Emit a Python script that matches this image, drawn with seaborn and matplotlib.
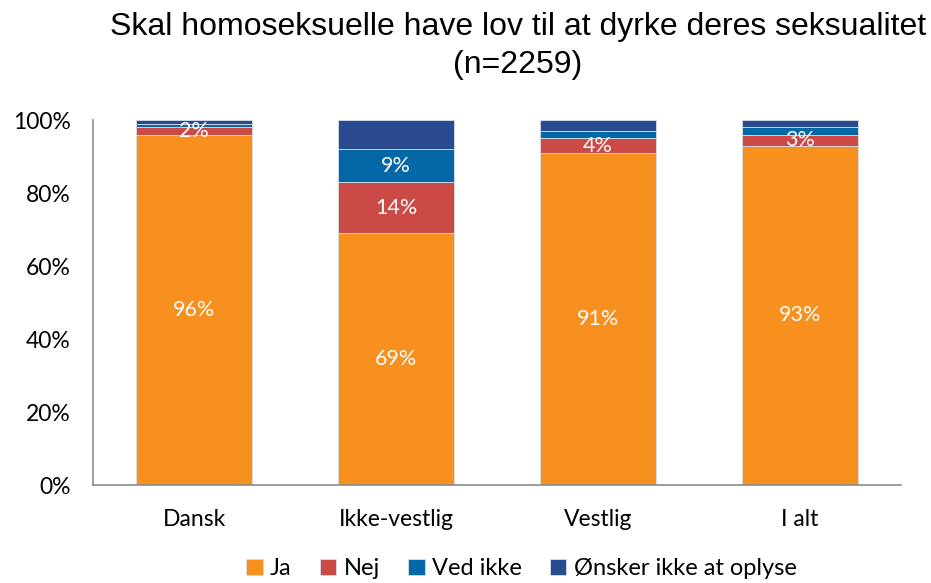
import numpy as np
import pandas as pd
import matplotlib
matplotlib.use("Agg")
import matplotlib.pyplot as plt
import seaborn as sns

# data (percent)
categories = ["Dansk", "Ikke-vestlig", "Vestlig", "I alt"]
series_names = ["Ja", "Nej", "Ved ikke", "Ønsker ikke at oplyse"]
ja = [96, 69, 91, 93]
nej = [2, 14, 4, 3]
ved_ikke = [1, 9, 2, 2]
oenskerikke = [1, 8, 3, 2]
# which segments carry a value label
show_ja = [True, True, True, True]
show_nej = [True, True, True, True]
show_ved = [False, True, False, False]
show_oen = [False, False, False, False]

colors = ["#F7901E", "#CC4A45", "#0568A6", "#2A4A8F"]

sns.set_style("white")
plt.rcParams["font.family"] = ["Lato", "DejaVu Sans"]
plt.rcParams["text.color"] = "black"

fig = plt.figure(figsize=(9.31, 5.83), dpi=100)
ax = fig.add_axes([0.0999, 0.168, 0.8679, 0.626])

values = [ja, nej, ved_ikke, oenskerikke]
shows = [show_ja, show_nej, show_ved, show_oen]
bottom = np.zeros(len(categories))
for name, vals, col, show in zip(series_names, values, colors, shows):
    df = pd.DataFrame({"kategori": categories, "andel": vals})
    sns.barplot(data=df, x="kategori", y="andel", color=col, bottom=bottom,
                saturation=1, width=0.57, edgecolor="#d8dde8", linewidth=0.6,
                label=name, legend=False, ax=ax)
    for i, (v, s) in enumerate(zip(vals, show)):
        if s:
            ax.text(i, bottom[i] + v / 2, f"{v}%", ha="center", va="center",
                    color="white", fontsize=15.5)
    bottom = bottom + np.array(vals)

if ax.get_legend() is not None:
    ax.get_legend().remove()

ax.set_xlim(-0.5, 3.5)
ax.set_ylim(0, 100)
ax.set_yticks(range(0, 101, 20))
ax.set_yticklabels([f"{t}%" for t in range(0, 101, 20)])
ax.set_xlabel("")
ax.set_ylabel("")
ax.tick_params(axis="both", labelsize=16.5, length=0, colors="black")
ax.tick_params(axis="x", pad=17)
ax.tick_params(axis="y", pad=16)
for side in ["top", "right"]:
    ax.spines[side].set_visible(False)
for side in ["left", "bottom"]:
    ax.spines[side].set_color("#8c8c8c")
    ax.spines[side].set_linewidth(1.2)

fig.text(0.556, 0.98, "Skal homoseksuelle have lov til at dyrke deres seksualitet\n(n=2259)",
         ha="center", va="top", fontsize=23, family=["Liberation Sans"],
         color="black", linespacing=1.35)

handles, labels = ax.get_legend_handles_labels()
fig.legend(handles, labels, loc="lower center", bbox_to_anchor=(0.56, -0.03), ncol=4,
           frameon=False, fontsize=17, handlelength=0.7, handleheight=0.7,
           handletextpad=0.3, columnspacing=1.2)

fig.savefig("out.png", dpi=100)
